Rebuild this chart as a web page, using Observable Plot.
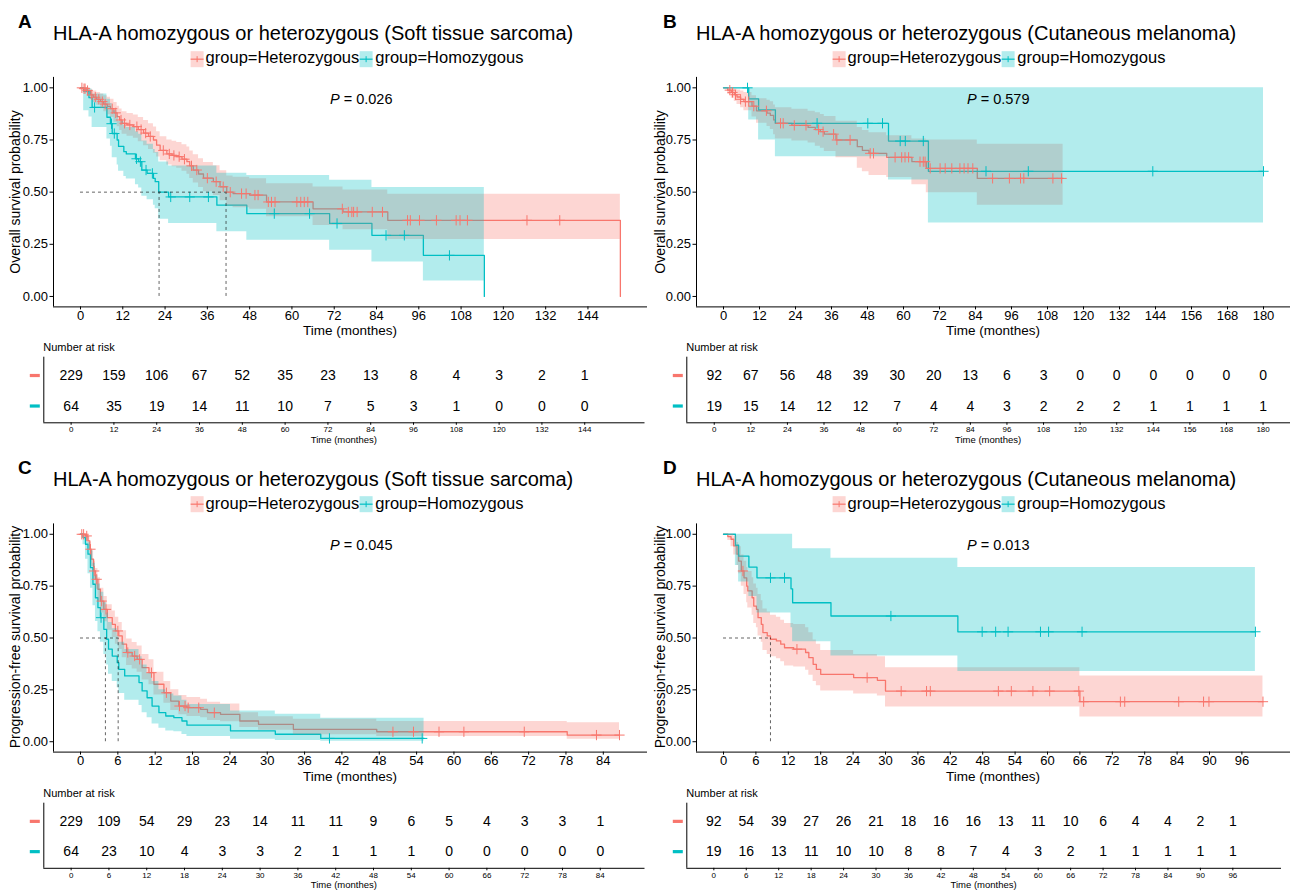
<!DOCTYPE html>
<html><head><meta charset="utf-8">
<script src="https://cdn.jsdelivr.net/npm/d3@7"></script>
<script src="https://cdn.jsdelivr.net/npm/@observablehq/plot@0.6"></script>
<style>
body{margin:0;background:#fff}
#root{position:relative;width:1293px;height:892px;overflow:hidden;font-family:"Liberation Sans",Arial,sans-serif;color:#000;background:#fff}
.t{position:absolute;white-space:nowrap;line-height:1}
svg{position:absolute;overflow:visible}
</style></head><body><div id="root"></div><script>
// ---------- data ----------
const groupNames = ["Heterozygous", "Homozygous"];
const groupColors = ["#F8766D", "#00BFC4"];

const A_ticks = [0,12,24,36,48,60,72,84,96,108,120,132,144];
const B_ticks = [0,12,24,36,48,60,72,84,96,108,120,132,144,156,168,180];
const C_ticks = [0,6,12,18,24,30,36,42,48,54,60,66,72,78,84];
const D_ticks = [0,6,12,18,24,30,36,42,48,54,60,66,72,78,84,90,96];
const yTicks = [0,0.25,0.5,0.75,1];

// Panel A (OS, soft tissue sarcoma)
const A_het_t  = [0,0.8,1.6,2.8,3.6,4.6,5.7,6.6,7.6,8.5,9.5,10.4,11.1,11.8,13.2,15,16.4,17.9,19.3,20.7,21.6,22.6,24.5,26,27.3,28.8,30.2,31,32,33.5,34.9,37.7,39.6,41.5,43.3,48,52.8,66,74.5,87.2,153.2];
const A_het_s  = [1,.996,.987,.966,.955,.945,.934,.922,.911,.90,.88,.862,.846,.83,.822,.814,.80,.783,.767,.75,.725,.70,.683,.676,.67,.658,.646,.626,.606,.587,.567,.55,.526,.50,.493,.486,.453,.42,.405,.365,0];
const A_het_up = [1,1,1,.99,.985,.978,.97,.962,.955,.945,.93,.912,.898,.885,.877,.87,.858,.843,.828,.812,.79,.766,.75,.744,.738,.727,.716,.697,.679,.66,.642,.626,.603,.578,.571,.564,.54,.525,.51,.49,.49];
const A_het_lo = [1,.985,.972,.944,.93,.917,.90,.885,.871,.858,.835,.814,.795,.778,.768,.758,.742,.722,.705,.686,.668,.65,.63,.622,.614,.6,.586,.565,.544,.522,.502,.484,.459,.433,.425,.418,.382,.34,.32,.273,.273];
const A_het_cens = [0.4,1.0,1.3,2.0,3.2,4.2,5.2,6.2,7.0,9.0,10.0,11.5,12.5,14.0,16.0,17.2,18.5,19.8,23.5,25.2,26.5,28.0,29.5,31.5,33.0,36.0,38.5,40.5,42.5,45.7,47.0,49.5,50.4,53.3,54.2,55.2,61.4,62.5,63.5,64.5,74.3,76,77,77.5,78.5,82.8,85.7,92.8,93.6,96.2,101,106.6,107.7,109.8,126.7,136];
const A_hom_t  = [0,0.9,2.4,3.3,7.5,8.5,9,10.4,10.8,12.3,13,15.6,16.5,17.4,18.9,20.7,21.2,22.2,25,38.7,47.2,70.7,82.7,97.3,114.6];
const A_hom_s  = [1,.984,.953,.906,.859,.828,.781,.75,.719,.694,.683,.66,.646,.606,.59,.566,.55,.50,.477,.4375,.397,.35,.293,.197,0];
const A_hom_up = [1,1,.995,.97,.945,.925,.89,.865,.84,.82,.81,.79,.777,.745,.73,.705,.69,.645,.625,.59,.58,.557,.522,.522,.522];
const A_hom_lo = [1,.89,.86,.81,.755,.72,.665,.63,.60,.575,.563,.535,.52,.48,.463,.437,.42,.37,.35,.31,.27,.221,.165,.074,.074];
const A_hom_cens = [4.0,8.8,9.6,15.9,17.0,18.6,20.4,25.6,31,36.3,55,65,72.8,86.7,91.9,104.7];
const A_medians = [41.3, 22.3];
const A_risk_het = [229,159,106,67,52,35,23,13,8,4,3,2,1];
const A_risk_hom = [64,35,19,14,11,10,7,5,3,1,0,0,0];

// Panel B (OS, cutaneous melanoma)
const B_het_t  = [0,1.4,2.6,3.6,4.5,5.7,6.8,9.5,11.0,14.5,15.6,16.7,17.3,22.8,28.2,30.6,32.3,33.6,37.5,44.6,46.3,48.5,54.4,62.8,67.6,84.6,113.2];
const B_het_s  = [1,.989,.978,.967,.956,.945,.934,.912,.89,.879,.868,.846,.83,.82,.81,.80,.79,.778,.75,.718,.70,.686,.667,.646,.614,.566,.566];
const B_het_up = [1,1,.998,.995,.99,.985,.978,.962,.948,.94,.933,.918,.905,.897,.888,.88,.872,.862,.84,.81,.795,.785,.77,.755,.75,.73,.73];
const B_het_lo = [1,.968,.95,.935,.92,.905,.89,.86,.83,.815,.80,.775,.755,.745,.735,.72,.71,.695,.665,.615,.598,.58,.57,.535,.497,.4375,.4375];
const B_het_cens = [2.1,3.0,4.0,5.7,7.3,8.4,10.1,14.3,19.0,19.9,23.6,27.5,31.7,33.2,36.7,37.8,42.2,48.9,50.0,57.2,59.4,60.5,61.7,65.5,66.6,67.2,68.9,72.2,73.9,76.1,78.8,80.2,81.5,83.1,89.7,95.3,99.0,100.1,109.8,112.7];
const B_hom_t  = [0,8.4,11.7,17.3,55,68.3,180];
const B_hom_s  = [1,.947,.894,.83,.745,.60,.60];
const B_hom_up = [1,1,1,1,1,1,1];
const B_hom_lo = [1,.846,.75,.67,.558,.352,.352];
const B_hom_cens = [8.0,31.2,48.1,53.0,58.9,60.6,66.6,87.5,101.6,143.1,180];
const B_medians = [];
const B_risk_het = [92,67,56,48,39,30,20,13,6,3,0,0,0,0,0,0];
const B_risk_hom = [19,15,14,12,12,7,4,4,3,2,2,2,1,1,1,1];

// Panel C (PFS, soft tissue sarcoma)
const C_het_t  = [0,0.8,1.2,1.5,1.7,2.1,2.4,2.8,3.2,3.75,4.3,5.1,5.6,6.15,6.7,7.4,8.3,9.1,9.9,11,11.8,13.4,14.5,15.8,17.1,19.3,20.4,22.5,25.6,28.6,34.2,47.6,78.2,86.6];
const C_het_s  = [1,.992,.968,.928,.88,.823,.783,.735,.678,.638,.598,.566,.534,.51,.47,.43,.413,.397,.357,.333,.277,.236,.196,.172,.164,.156,.14,.132,.10,.084,.06,.048,.032,.032];
const C_het_up = [1,1,.99,.96,.92,.87,.835,.79,.74,.70,.66,.63,.60,.575,.535,.495,.478,.462,.42,.395,.335,.29,.25,.223,.213,.205,.19,.182,.14,.12,.108,.097,.092,.092];
const C_het_lo = [1,.98,.945,.895,.845,.78,.735,.68,.62,.578,.537,.503,.47,.445,.405,.367,.35,.335,.297,.275,.225,.186,.15,.13,.122,.115,.102,.096,.068,.055,.034,.025,.012,.012];
const C_het_cens = [0.2,0.5,1.0,1.6,2.2,2.6,3.4,4.1,6.0,7.6,8.7,9.5,11.4,13.8,15.9,16.8,17.3,19.0,21.5,50.2,53.5,57.6,61.6,71.3,82.9,86.6];
const C_hom_t  = [0,0.4,0.8,1.2,1.6,2.0,2.4,2.8,3.2,3.75,4.2,4.5,5.1,5.9,6.15,7.1,9.4,9.9,10.7,11.5,12.6,13.7,15,16.3,17.1,24.1,31.3,38.6,55.2];
const C_hom_s  = [1,.984,.952,.904,.839,.759,.694,.646,.598,.542,.494,.446,.413,.381,.349,.317,.285,.245,.212,.172,.14,.124,.116,.10,.08,.052,.036,.016,.016];
const C_hom_up = [1,1,.99,.96,.92,.86,.80,.76,.72,.67,.62,.575,.545,.51,.48,.445,.41,.37,.33,.29,.25,.23,.22,.20,.18,.148,.132,.113,.113];
const C_hom_lo = [1,.95,.88,.81,.74,.655,.58,.53,.48,.42,.37,.325,.29,.26,.232,.20,.175,.14,.115,.085,.065,.052,.048,.035,.025,.012,.006,.002,.002];
const C_hom_cens = [3.3,40.0,54.9];
const C_medians = [6.05, 4.0];
const C_risk_het = [229,109,54,29,23,14,11,11,9,6,5,4,3,3,1];
const C_risk_hom = [64,23,10,4,3,3,2,1,1,1,0,0,0,0,0];

// Panel D (PFS, cutaneous melanoma)
const D_het_t  = [0,0.8,1.4,1.9,2.5,2.8,3.3,3.8,4.3,4.5,5.3,5.6,6.1,6.4,7.0,7.3,8.1,8.7,9.8,10.6,11.3,13.0,15.2,15.8,16.6,17.2,18.0,24.1,28.5,30.0,66.0,99.9];
const D_het_s  = [1,.989,.976,.944,.904,.871,.823,.79,.75,.727,.694,.654,.638,.598,.566,.526,.51,.494,.486,.47,.453,.446,.43,.405,.373,.349,.325,.309,.296,.244,.193,.193];
const D_het_up = [1,1,1,.99,.96,.94,.90,.87,.84,.82,.79,.76,.74,.71,.68,.64,.625,.61,.60,.585,.57,.565,.55,.525,.49,.47,.44,.42,.41,.357,.317,.317];
const D_het_lo = [1,.97,.94,.90,.85,.81,.75,.71,.67,.645,.61,.57,.55,.51,.48,.44,.42,.41,.40,.385,.365,.36,.345,.32,.29,.27,.245,.23,.22,.167,.119,.119];
const D_het_cens = [3.6,13.6,26.6,32.9,37.6,38.3,50.9,53.3,57.3,60.4,65.8,66.7,73.5,74.3,84.3,88.9,89.9,99.9];
const D_hom_t  = [0,2.2,2.8,4.7,6.2,12.5,12.8,19.9,43.4,98.5];
const D_hom_s  = [1,.947,.895,.842,.79,.737,.67,.606,.53,.53];
const D_hom_up = [1,1,1,1,1,1,.93,.885,.84,.84];
const D_hom_lo = [1,.85,.77,.70,.62,.55,.482,.413,.338,.338];
const D_hom_cens = [8.7,11.3,31.0,47.9,50.4,52.7,58.7,60.2,66.4,98.5];
const D_medians = [8.7];
const D_risk_het = [92,54,39,27,26,21,18,16,16,13,11,10,6,4,4,2,1];
const D_risk_hom = [19,16,13,11,10,10,8,8,7,4,3,2,1,1,1,1,1];

const titleSTS = "HLA-A homozygous or heterozygous (Soft tissue sarcoma)";
const titleCM = "HLA-A homozygous or heterozygous (Cutaneous melanoma)";
const yLabOS = "Overall survival probability";
const yLabPFS = "Progression-free survival probability";
const xLab = "Time (monthes)";
const pValues = ["0.026", "0.579", "0.045", "0.013"];

// ---------- helpers ----------
const root = document.getElementById("root");
const FONT = '"Liberation Sans", Arial, sans-serif';
function rows(t, s, up, lo) { return t.map((d, i) => ({t: d, s: s[i], up: up[i], lo: lo[i]})); }
function survAt(t, s, x) { let v = s[0]; for (let i = 0; i < t.length; i++) { if (t[i] <= x) v = s[i]; else break; } return v; }
function cens(times, t, s) { return times.map(x => ({t: x, s: survAt(t, s, x)})); }
function addText(x, y, html, size, opts = {}) {
  const d = document.createElement("div");
  d.className = "t";
  d.innerHTML = html;
  d.style.left = x + "px"; d.style.top = y + "px"; d.style.fontSize = size + "px";
  const ax = opts.anchor === "middle" ? "-50%" : opts.anchor === "end" ? "-100%" : "0";
  d.style.transform = `translate(${ax},-50%)`;
  if (opts.bold) d.style.fontWeight = "bold";
  root.appendChild(d);
  return d;
}
function place(svg, left, top) { svg.style.left = left + "px"; svg.style.top = top + "px"; root.appendChild(svg); }
const barSymbol = { draw(ctx) { ctx.moveTo(-5, -1.6); ctx.lineTo(5, -1.6); ctx.lineTo(5, 1.6); ctx.lineTo(-5, 1.6); ctx.closePath(); } };
function swatch(color) {
  return `<svg width="13" height="16" style="position:relative;vertical-align:middle;overflow:visible"><rect x="0" y="0" width="13" height="16" fill="${color}" fill-opacity="0.3"/><line x1="0" x2="13" y1="8" y2="8" stroke="${color}" stroke-width="1.2"/><line x1="6.5" x2="6.5" y1="5" y2="11" stroke="${color}" stroke-width="1"/></svg>`;
}

function panel(cfg) {
  const dom = cfg.domain;
  const svgW = cfg.svgW, svgH = 345;
  const curves = [
    {data: rows(cfg.het[0], cfg.het[1], cfg.het[2], cfg.het[3]), cens: cens(cfg.het[4], cfg.het[0], cfg.het[1]), color: groupColors[0]},
    {data: rows(cfg.hom[0], cfg.hom[1], cfg.hom[2], cfg.hom[3]), cens: cens(cfg.hom[4], cfg.hom[0], cfg.hom[1]), color: groupColors[1]}
  ];
  const marks = [];
  for (const c of curves) marks.push(Plot.line(c.data, {x: "t", y: "s", curve: "step-after", stroke: c.color, strokeWidth: 1.3}));
  for (const c of curves) marks.push(Plot.areaY(c.data, {x: "t", y1: "lo", y2: "up", curve: "step-after", fill: c.color, fillOpacity: 0.3}));
  for (const c of curves) marks.push(Plot.dot(c.cens, {x: "t", y: "s", symbol: "plus", r: 3.4, stroke: c.color, strokeWidth: 1}));
  if (cfg.medians.length) {
    marks.push(Plot.ruleY([0.5], {x1: 0, x2: d3.max(cfg.medians), stroke: "#222", strokeWidth: 0.7, strokeDasharray: "3,3"}));
    marks.push(Plot.ruleX(cfg.medians, {y1: 0, y2: 0.5, stroke: "#222", strokeWidth: 0.7, strokeDasharray: "3,3"}));
  }
  marks.push(Plot.ruleX([dom[0]], {stroke: "#000", strokeWidth: 1}));
  marks.push(Plot.ruleY([-0.05], {stroke: "#000", strokeWidth: 1}));
  marks.push(Plot.axisX({ticks: cfg.ticks, tickFormat: d => String(d), tickSize: 3, tickPadding: 1, fontSize: 13, label: null}));
  marks.push(Plot.axisY({ticks: yTicks, tickFormat: d3.format(".2f"), tickSize: 3.5, tickPadding: 2, fontSize: 13, label: null}));
  const chart = Plot.plot({
    width: svgW, height: svgH,
    marginLeft: cfg.xr[0] - cfg.left, marginRight: cfg.left + svgW - cfg.xr[1],
    marginTop: cfg.yr[0] - cfg.top, marginBottom: cfg.top + svgH - cfg.yr[1],
    x: {domain: dom, range: [cfg.xr[0] - cfg.left, cfg.xr[1] - cfg.left], label: null},
    y: {domain: [-0.05, 1.05], range: [cfg.yr[1] - cfg.top, cfg.yr[0] - cfg.top], label: null},
    style: {fontFamily: FONT, color: "#000", background: "transparent", overflow: "visible"},
    marks
  });
  place(chart, cfg.left, cfg.top);

  // risk table
  const tTop = cfg.tableY[0] - 1.7, tH = 95;
  const tRows = [];
  cfg.ticks.forEach((t, i) => {
    if (i < cfg.risk[0].length) tRows.push({t, row: 0, n: cfg.risk[0][i]});
    if (i < cfg.risk[1].length) tRows.push({t, row: 1, n: cfg.risk[1][i]});
  });
  const yDom = [-0.6, 1.55];
  const table = Plot.plot({
    width: svgW, height: tH,
    marginLeft: cfg.tr[0] - cfg.left, marginRight: cfg.left + svgW - cfg.tr[1],
    marginTop: cfg.tableY[0] - tTop, marginBottom: tTop + tH - cfg.tableY[1],
    x: {domain: dom, range: [cfg.tr[0] - cfg.left, cfg.tr[1] - cfg.left], label: null},
    y: {domain: yDom, range: [cfg.tableY[0] - tTop, cfg.tableY[1] - tTop], axis: null},
    style: {fontFamily: FONT, color: "#000", background: "transparent", overflow: "visible"},
    marks: [
      Plot.text(tRows, {x: "t", y: "row", text: d => String(d.n), fontSize: 14, fill: "#000"}),
      Plot.dot([0, 1], {x: () => dom[0], y: d => d, symbol: barSymbol, fill: d => groupColors[d], stroke: "none", dx: -9}),
      Plot.ruleX([dom[0]], {stroke: "#000", strokeWidth: 1}),
      Plot.ruleY([yDom[1]], {stroke: "#000", strokeWidth: 1}),
      Plot.axisX({ticks: cfg.ticks, tickFormat: d => String(d), tickSize: 2.5, tickPadding: 1.5, fontSize: 8, label: null})
    ]
  });
  place(table, cfg.left, tTop);

  // texts
  addText(cfg.left + 18, cfg.top + 21, cfg.letter, 19, {bold: true});
  addText(cfg.xr[0], cfg.top + 33, cfg.title, 20);
  addText(cfg.legendX, cfg.top + 58,
    `${swatch(groupColors[0])}<span style="margin-left:2px">group=${groupNames[0]}</span>${swatch(groupColors[1])}<span style="margin-left:3px">group=${groupNames[1]}</span>`,
    16.5, {anchor: "middle"});
  addText(cfg.pX, cfg.top + 99, `<i>P</i> = ${cfg.p}`, 14.5);
  addText((cfg.xr[0] + cfg.xr[1]) / 2, cfg.top + 331, xLab, 13.5, {anchor: "middle"});
  const yl = addText(cfg.left + 15, (cfg.yr[0] + cfg.yr[1]) / 2, cfg.ylab, 14);
  yl.style.transformOrigin = "0 0";
  yl.style.transform = "rotate(-90deg) translate(-50%,-50%)";
  addText(cfg.tr[0], cfg.tableY[0] - 9.5, "Number at risk", 11);
  addText((cfg.tr[0] + cfg.tr[1]) / 2, cfg.tableY[1] + 17.5, xLab, 9.5, {anchor: "middle"});
}

const C_off = 445.5;
panel({letter: "A", left: 0, top: 0, svgW: 650, title: titleSTS, ylab: yLabOS, domain: [-7.66, 160.9], ticks: A_ticks,
  xr: [53, 647], yr: [76.9, 306.4], tr: [43.3, 644.5], tableY: [356.7, 422.3], legendX: 357, pX: 330, p: pValues[0],
  het: [A_het_t, A_het_s, A_het_up, A_het_lo, A_het_cens], hom: [A_hom_t, A_hom_s, A_hom_up, A_hom_lo, A_hom_cens],
  medians: A_medians, risk: [A_risk_het, A_risk_hom]});
panel({letter: "B", left: 645, top: 0, svgW: 648, title: titleCM, ylab: yLabOS, domain: [-9, 189], ticks: B_ticks,
  xr: [696, 1290], yr: [76.9, 306.4], tr: [686.3, 1290], tableY: [356.7, 422.3], legendX: 999, pX: 967, p: pValues[1],
  het: [B_het_t, B_het_s, B_het_up, B_het_lo, B_het_cens], hom: [B_hom_t, B_hom_s, B_hom_up, B_hom_lo, B_hom_cens],
  medians: B_medians, risk: [B_risk_het, B_risk_hom]});
panel({letter: "C", left: 0, top: C_off, svgW: 650, title: titleSTS, ylab: yLabPFS, domain: [-4.34, 91.1], ticks: C_ticks,
  xr: [53, 647], yr: [522.9, 751.1], tr: [43.3, 644.5], tableY: [802.2, 867.3], legendX: 357, pX: 330, p: pValues[2],
  het: [C_het_t, C_het_s, C_het_up, C_het_lo, C_het_cens], hom: [C_hom_t, C_hom_s, C_hom_up, C_hom_lo, C_hom_cens],
  medians: C_medians, risk: [C_risk_het, C_risk_hom]});
panel({letter: "D", left: 645, top: C_off, svgW: 648, title: titleCM, ylab: yLabPFS, domain: [-5, 105], ticks: D_ticks,
  xr: [696, 1290], yr: [522.9, 751.1], tr: [686.3, 1281], tableY: [802.2, 867.3], legendX: 999, pX: 967, p: pValues[3],
  het: [D_het_t, D_het_s, D_het_up, D_het_lo, D_het_cens], hom: [D_hom_t, D_hom_s, D_hom_up, D_hom_lo, D_hom_cens],
  medians: D_medians, risk: [D_risk_het, D_risk_hom]});
</script></body></html>
